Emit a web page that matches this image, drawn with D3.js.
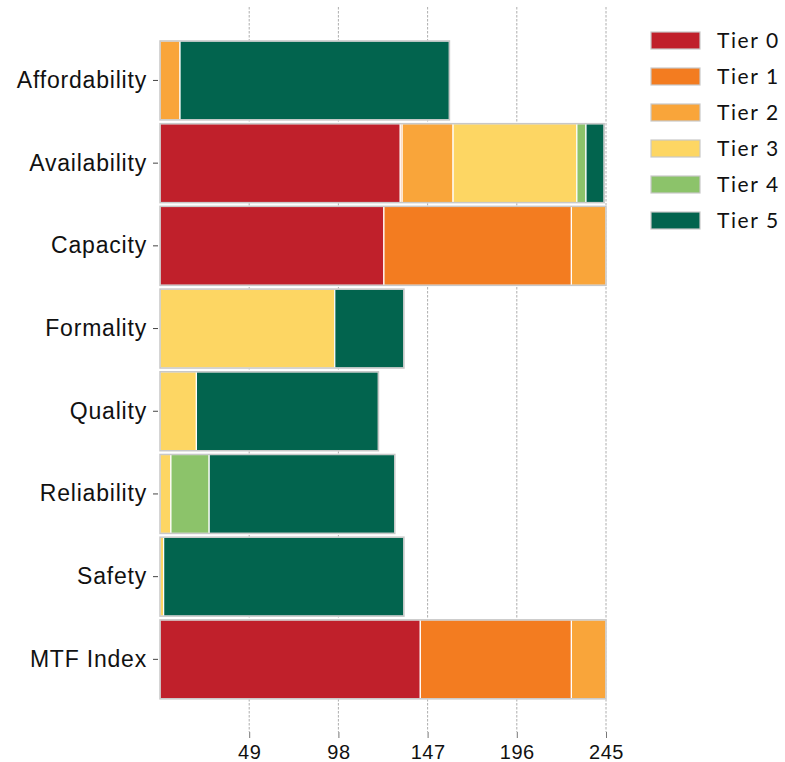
<!DOCTYPE html>
<html>
<head>
<meta charset="utf-8">
<script src="https://cdn.jsdelivr.net/npm/d3@7"></script>
<style>
  html, body { margin: 0; padding: 0; background: #fff; }
  svg { display: block; font-family: Lato, "Noto Sans", sans-serif; }
</style>
</head>
<body>
<svg id="chart" width="785" height="762"></svg>
<script>
const categories = ["Affordability", "Availability", "Capacity", "Formality", "Quality", "Reliability", "Safety", "MTF Index"];
const tiers = ["Tier 0", "Tier 1", "Tier 2", "Tier 3", "Tier 4", "Tier 5"];
const tier0 = [0, 132, 123, 0, 0, 0, 0, 143];
const tier1 = [0, 1, 103, 0, 0, 0, 0, 83];
const tier2 = [11, 28, 19, 0, 0, 0, 0, 19];
const tier3 = [0, 68, 0, 96, 20, 6, 2, 0];
const tier4 = [0, 5, 0, 0, 0, 21, 0, 0];
const tier5 = [148, 10, 0, 38, 100, 102, 132, 0];
const tickValues = [49, 98, 147, 196, 245];
const colors = ["#c0202b", "#f37c20", "#f9a53a", "#fdd663", "#8cc36a", "#02644e"];

const seriesValues = [tier0, tier1, tier2, tier3, tier4, tier5];
const rows = categories.map((c, i) => {
  const r = { category: c };
  tiers.forEach((t, k) => r[t] = seriesValues[k][i]);
  return r;
});

const svg = d3.select("#chart");
const x = d3.scaleLinear().domain([0, 245]).range([160, 606]);
const y = d3.scaleBand().domain(categories).range([39.1, 700.7]).paddingInner(0.045).paddingOuter(0.0225);

const plotTop = 7, plotBottom = 732;

// grid
svg.append("g").selectAll("line").data(tickValues).join("line")
  .attr("x1", d => x(d)).attr("x2", d => x(d))
  .attr("y1", plotTop).attr("y2", plotBottom)
  .attr("stroke", "#999").attr("stroke-width", 0.8)
  .attr("stroke-dasharray", "2.5,1.5");

const stack = d3.stack().keys(tiers)(rows);

const barsG = svg.append("g");
stack.forEach((layer, k) => {
  barsG.append("g").selectAll("rect").data(layer.filter(d => d[1] - d[0] > 0)).join("rect")
    .attr("x", d => x(d[0]))
    .attr("y", d => y(d.data.category))
    .attr("width", d => x(d[1]) - x(d[0]))
    .attr("height", y.bandwidth())
    .attr("fill", colors[k])
    .attr("stroke", "#fff").attr("stroke-width", 1.2);
});

// outer outline per bar
svg.append("g").selectAll("rect").data(rows).join("rect")
  .attr("x", d => x(0))
  .attr("y", d => y(d.category))
  .attr("width", d => x(d3.sum(tiers, t => d[t])) - x(0))
  .attr("height", y.bandwidth())
  .attr("fill", "none").attr("stroke", "#c8c8c8").attr("stroke-width", 1.5);

// x axis
const xAxis = d3.axisBottom(x).tickValues(tickValues).tickSize(6).tickSizeOuter(0).tickPadding(6);
const gx = svg.append("g").attr("transform", `translate(0,${plotBottom})`).call(xAxis);
gx.select(".domain").remove();
gx.selectAll(".tick line").attr("stroke", "#555").attr("stroke-width", 0.8);
gx.selectAll(".tick text").attr("font-size", 20).attr("fill", "#111").attr("dy", "0.75em")
  .attr("letter-spacing", "0.5px");

// y axis
const yAxis = d3.axisLeft(y).tickSize(5).tickPadding(6);
const gy = svg.append("g").attr("transform", `translate(158,0)`).call(yAxis);
gy.select(".domain").remove();
gy.selectAll(".tick line").attr("stroke", "#444").attr("stroke-width", 1);
gy.selectAll(".tick text").attr("font-size", 23).attr("fill", "#111")
  .attr("letter-spacing", "0.8px");

// legend
const legend = svg.append("g");
const lg = legend.selectAll("g").data(tiers).join("g")
  .attr("transform", (d, i) => `translate(651,${32 + i * 36})`);
lg.append("rect").attr("width", 49).attr("height", 17)
  .attr("fill", (d, i) => colors[i]).attr("stroke", "#c8c8c8").attr("stroke-width", 1.2);
lg.append("text").attr("x", 66).attr("y", 8.5).attr("dy", "0.35em")
  .attr("font-size", 21).attr("fill", "#111").attr("letter-spacing", "1.6px").text(d => d);
</script>
</body>
</html>
